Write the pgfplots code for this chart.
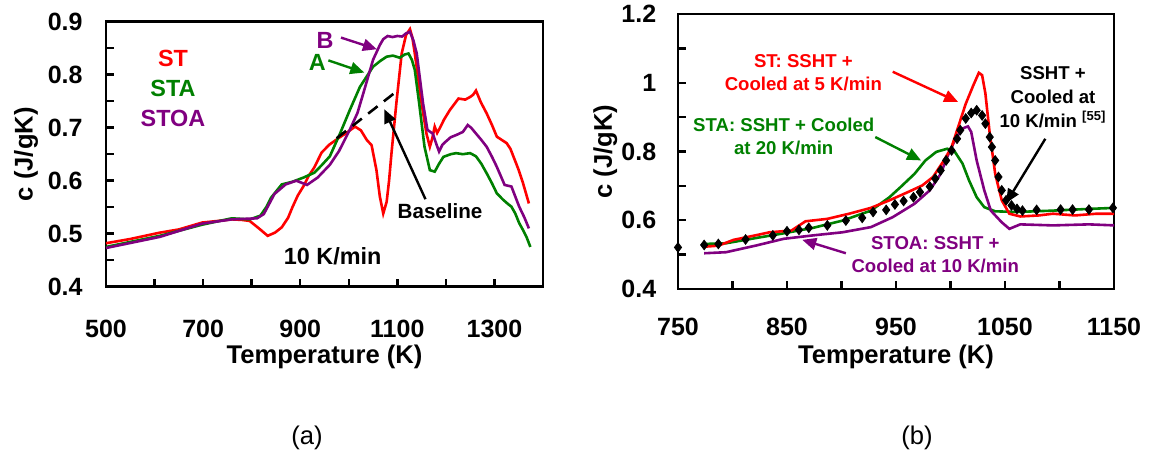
\documentclass[border=0pt]{standalone}
\usepackage{fontspec}
\setmainfont{Liberation Sans}
\usepackage{pgfplots}
\pgfplotsset{compat=1.18}
\usetikzlibrary{arrows.meta}
\definecolor{cred}{RGB}{255,0,0}
\definecolor{cgreen}{RGB}{0,128,0}
\definecolor{cpurple}{RGB}{128,0,128}
\tikzset{arr/.style={line width=1.2pt, -{Triangle[length=7pt,width=6pt]}}}
\pgfplotsset{
  mystyle/.style={
    scale only axis,
    axis line style={line width=1.4pt},
    tick align=inside,
    tick pos=left,
    major tick length=4pt,
    every tick/.style={line width=1.2pt, black},
    tick label style={font=\bfseries\fontsize{12.5}{14}\selectfont},
    /pgf/number format/assume math mode=true,
    yticklabel style={anchor=east, inner sep=0pt},
    xticklabel style={anchor=center},
    every axis x label/.style={anchor=center, font=\bfseries\fontsize{12.8}{14}\selectfont},
    every axis y label/.style={anchor=center, rotate=90, font=\bfseries\fontsize{12.8}{14}\selectfont},
    xlabel={Temperature (K)},
    ylabel={c (J/gK)},
  },
}
\begin{document}
\begin{tikzpicture}
\path[use as bounding box] (0,0) rectangle (576pt,230pt);
% ---------------- (a) ----------------
\begin{axis}[mystyle,
  at={(53pt,86.65pt)}, anchor=south west,
  width=218.5pt, height=132.5pt,
  xmin=500, xmax=1400, ymin=0.4, ymax=0.9,
  xtick={500,600,700,800,900,1000,1100,1200,1300,1400},
  xticklabels={500,,700,,900,,1100,,1300,},
  ytick={0.4,0.45,0.5,0.55,0.6,0.65,0.7,0.75,0.8,0.85,0.9},
  yticklabels={0.4,,0.5,,0.6,,0.7,,0.8,,0.9},
  xticklabel style={yshift=-21pt},
  yticklabel style={xshift=-11.5pt},
  every axis x label/.append style={at={(axis description cs:0.5,-0.265)}},
  every axis y label/.append style={at={(axis description cs:-0.183,0.5)}},
]
\addplot[cred, line width=1.3pt] coordinates {
(500,0.482) (550,0.490) (611,0.502) (650,0.508) (698,0.521) (730,0.524) (759,0.527) (780,0.526) (796,0.524) (815,0.510) (833,0.496) (848,0.502) (862,0.512) (875,0.530) (884,0.550) (895,0.572) (907,0.590) (918,0.610) (929,0.625) (944,0.653) (960,0.668) (980,0.681) (995,0.690) (1013,0.702) (1025,0.695) (1037,0.677) (1047,0.667) (1057,0.620) (1064,0.570) (1071,0.538) (1078,0.560) (1083,0.600) (1088,0.652) (1098,0.746) (1109,0.840) (1118,0.875) (1126,0.886) (1131,0.870) (1136,0.840) (1150,0.746) (1160,0.689) (1167,0.664) (1172,0.680) (1177,0.702) (1182,0.690) (1188,0.700) (1196,0.715) (1208,0.733) (1226,0.755) (1240,0.753) (1250,0.758) (1256,0.762) (1262,0.770) (1272,0.748) (1284,0.727) (1295,0.705) (1305,0.683) (1315,0.677) (1325,0.671) (1333,0.660) (1342,0.639) (1350,0.620) (1359,0.595) (1371,0.557)
};
\addplot[cgreen, line width=1.3pt] coordinates {
(500,0.475) (611,0.496) (698,0.517) (759,0.529) (796,0.527) (818,0.534) (830,0.550) (840,0.568) (862,0.593) (884,0.598) (907,0.606) (929,0.615) (945,0.630) (961,0.646) (982,0.689) (1002,0.733) (1023,0.777) (1050,0.815) (1065,0.826) (1078,0.834) (1091,0.836) (1105,0.832) (1115,0.838) (1123,0.840) (1130,0.828) (1136,0.809) (1145,0.746) (1156,0.664) (1167,0.620) (1177,0.617) (1186,0.632) (1195,0.645) (1210,0.650) (1221,0.652) (1235,0.650) (1250,0.652) (1262,0.646) (1273,0.632) (1284,0.614) (1295,0.595) (1305,0.576) (1318,0.564) (1328,0.556) (1335,0.551) (1343,0.538) (1351,0.520) (1360,0.505) (1366,0.494) (1374,0.475)
};
\addplot[cpurple, line width=1.3pt] coordinates {
(500,0.473) (611,0.494) (698,0.519) (759,0.527) (811,0.529) (825,0.537) (847,0.575) (870,0.593) (892,0.600) (914,0.592) (936,0.606) (961,0.630) (980,0.656) (1002,0.696) (1018,0.728) (1030,0.765) (1050,0.828) (1064,0.856) (1071,0.867) (1080,0.873) (1090,0.871) (1100,0.873) (1110,0.872) (1118,0.878) (1126,0.881) (1133,0.865) (1140,0.840) (1153,0.746) (1162,0.696) (1168,0.692) (1173,0.689) (1180,0.670) (1186,0.655) (1193,0.668) (1200,0.674) (1210,0.682) (1221,0.686) (1235,0.692) (1245,0.705) (1252,0.700) (1262,0.689) (1273,0.677) (1284,0.664) (1295,0.645) (1305,0.626) (1321,0.592) (1335,0.589) (1343,0.570) (1351,0.551) (1362,0.530) (1371,0.510)
};
\addplot[black, line width=1.3pt, dash pattern=on 6pt off 4pt] coordinates {(975,0.680) (1102,0.771)};
\node[text=cred, font=\bfseries\fontsize{11.7}{13}\selectfont] at (axis cs:638,0.831) {ST};
\node[text=cgreen, font=\bfseries\fontsize{11.7}{13}\selectfont] at (axis cs:638,0.774) {STA};
\node[text=cpurple, font=\bfseries\fontsize{11.7}{13}\selectfont] at (axis cs:638,0.717) {STOA};
\node[text=cpurple, font=\bfseries\fontsize{11.7}{13}\selectfont] at (axis cs:951,0.865) {B};
\node[text=cgreen, font=\bfseries\fontsize{11.7}{13}\selectfont] at (axis cs:935,0.824) {A};
\draw[arr, cpurple] (axis cs:984,0.870) -- (axis cs:1058,0.848);
\draw[arr, cgreen] (axis cs:958,0.827) -- (axis cs:1032,0.804);
\draw[arr, black] (axis cs:1158,0.565) -- (axis cs:1073,0.735);
\node[font=\bfseries\fontsize{10.3}{12}\selectfont] at (axis cs:1188,0.542) {Baseline};
\node[font=\bfseries\fontsize{11.7}{13}\selectfont] at (axis cs:967,0.458) {10 K/min};
\end{axis}
% ---------------- (b) ----------------
\begin{axis}[mystyle,
  at={(339pt,85.5pt)}, anchor=south west,
  width=218pt, height=137.5pt,
  xmin=750, xmax=1150, ymin=0.4, ymax=1.2,
  xtick={750,800,850,900,950,1000,1050,1100,1150},
  xticklabels={750,,850,,950,,1050,,1150},
  ytick={0.4,0.5,0.6,0.7,0.8,0.9,1.0,1.1,1.2},
  yticklabels={0.4,,0.6,,0.8,,1,,1.2},
  xticklabel style={yshift=-18.85pt},
  yticklabel style={xshift=-10.7pt},
  every axis x label/.append style={at={(axis description cs:0.5,-0.247)}},
  every axis y label/.append style={at={(axis description cs:-0.167,0.5)}},
]
\addplot[cgreen, line width=1.3pt] coordinates {
(774,0.531) (794,0.533) (821,0.548) (847,0.562) (874,0.578) (901,0.599) (927,0.628) (944,0.667) (954,0.696) (967,0.735) (977,0.774) (987,0.799) (997,0.808) (1004,0.799) (1011,0.765) (1017,0.716) (1024,0.667) (1031,0.638) (1041,0.626) (1061,0.624) (1094,0.628) (1127,0.633) (1151,0.636)
};
\addplot[cpurple, line width=1.3pt] coordinates {
(774,0.504) (794,0.507) (821,0.526) (847,0.546) (874,0.556) (901,0.565) (927,0.580) (947,0.609) (967,0.648) (981,0.687) (991,0.735) (997,0.784) (1004,0.833) (1011,0.867) (1016,0.873) (1019,0.857) (1024,0.774) (1031,0.687) (1037,0.628) (1047,0.594) (1054,0.575) (1064,0.588) (1094,0.585) (1127,0.588) (1151,0.585)
};
\addplot[cred, line width=1.3pt] coordinates {
(774,0.523) (787,0.526) (801,0.543) (821,0.556) (834,0.565) (854,0.570) (867,0.597) (887,0.604) (907,0.619) (927,0.636) (944,0.658) (961,0.682) (974,0.701) (984,0.726) (994,0.774) (1001,0.813) (1007,0.871) (1014,0.939) (1021,0.993) (1026,1.029) (1029,1.022) (1032,0.969) (1036,0.852) (1041,0.735) (1047,0.658) (1054,0.619) (1064,0.611) (1081,0.614) (1094,0.619) (1114,0.614) (1134,0.619) (1151,0.619)
};
\addplot[only marks, mark=diamond*, mark size=2.4pt, black] coordinates {
(750,0.521) (774,0.528) (787,0.531) (812,0.544) (837,0.556) (850,0.568) (861,0.572) (870,0.578) (887,0.585) (904,0.599) (919,0.607) (929,0.624) (941,0.630) (949,0.646) (957,0.656) (966,0.667) (972,0.682) (981,0.698) (986,0.721) (991,0.745) (996,0.774) (1001,0.803) (1006,0.837) (1009,0.862) (1014,0.896) (1019,0.912) (1024,0.920) (1029,0.905) (1032,0.881) (1036,0.842) (1038,0.813) (1041,0.774) (1044,0.726) (1047,0.687) (1051,0.658) (1056,0.643) (1061,0.633) (1066,0.628) (1079,0.630) (1101,0.631) (1112,0.631) (1127,0.631) (1149,0.636)
};
\node[text=cred, align=center, font=\bfseries\fontsize{9.3}{11.5}\selectfont] at (axis cs:865,1.03) {ST: SSHT +\\Cooled at 5 K/min};
\draw[arr, cred] (axis cs:947,1.032) -- (axis cs:1007,0.944);
\node[align=center, font=\bfseries\fontsize{9.3}{12}\selectfont] at (axis cs:1094,0.957) {SSHT +\\Cooled at\\10 K/min \textsuperscript{[55]}};
\draw[arr, black] (axis cs:1087,0.837) -- (axis cs:1051,0.650);
\node[text=cgreen, align=center, font=\bfseries\fontsize{9.3}{11.5}\selectfont] at (axis cs:847,0.845) {STA: SSHT + Cooled\\at 20 K/min};
\draw[arr, cgreen] (axis cs:931,0.842) -- (axis cs:973,0.774);
\node[text=cpurple, align=center, font=\bfseries\fontsize{9.3}{11.5}\selectfont] at (axis cs:986,0.500) {STOA: SSHT +\\Cooled at 10 K/min};
\draw[arr, cpurple] (axis cs:904,0.504) -- (axis cs:864,0.543);
\end{axis}
\node[font=\fontsize{12.8}{14}\selectfont] at (153.5pt,11pt) {(a)};
\node[font=\fontsize{12.8}{14}\selectfont] at (458.5pt,11pt) {(b)};
\end{tikzpicture}
\end{document}
